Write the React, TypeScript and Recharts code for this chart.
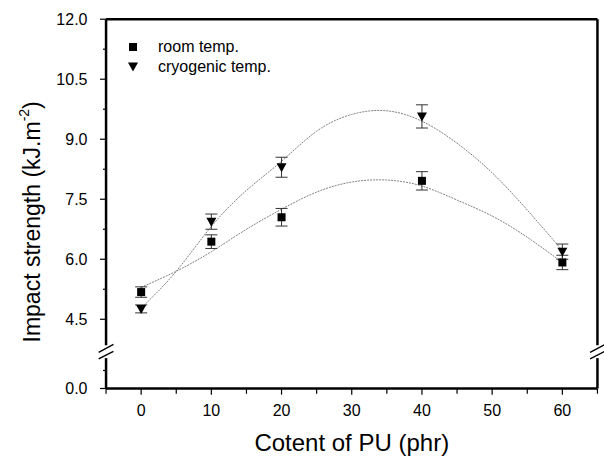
import {
  ComposedChart,
  Line,
  Scatter,
  ErrorBar,
  XAxis,
  YAxis,
  ReferenceLine,
} from "recharts";

const FONT = '"Liberation Sans", Arial, Helvetica, sans-serif';

// measured points
const PU_CONTENT = [0, 10, 20, 40, 60];
const ROOM_TEMP = [5.18, 6.44, 7.05, 7.96, 5.92];
const ROOM_ERR = [0.13, 0.17, 0.22, 0.23, 0.18];
const CRYO_TEMP = [4.76, 6.94, 8.3, 9.57, 6.19];
const CRYO_ERR = [0.1, 0.19, 0.25, 0.29, 0.19];

// fitted curves
const FIT_X = [0, 5, 10, 15, 20, 25, 30, 35, 40, 45, 50, 55, 60];
const ROOM_FIT = [5.3, 5.7, 6.19, 6.75, 7.25, 7.68, 7.93, 7.98, 7.83, 7.48, 7.08, 6.55, 5.92];
const CRYO_FIT = [4.78, 5.7, 6.82, 7.72, 8.45, 9.2, 9.62, 9.71, 9.45, 8.9, 8.16, 7.23, 6.22];

// axes (the y axis is broken: its lowest value stands for 0.0)
const X_FRAME = [-5, 65];
const X_DOMAIN = [-5.15, 65.15];
const X_TICKS = [-5, 0, 5, 10, 15, 20, 25, 30, 35, 40, 45, 50, 55, 60, 65];
const X_LABELED = [0, 10, 20, 30, 40, 50, 60];
const Y_BOTTOM = 2.77;
const Y_FRAME = [Y_BOTTOM, 12];
const Y_DOMAIN = [2.74, 12.03];
const Y_MAJOR = [Y_BOTTOM, 4.5, 6, 7.5, 9, 10.5, 12];
const Y_LABELS = ["0.0", "4.5", "6.0", "7.5", "9.0", "10.5", "12.0"];
const Y_MINOR = [3.22, 5.25, 6.75, 8.25, 9.75, 11.25];
const Y_GAP = [3.53, 3.85];

const SERIES = ["room temp.", "cryogenic temp."];

const roomPts = PU_CONTENT.map((x, i) => ({ x, y: ROOM_TEMP[i], err: ROOM_ERR[i] }));
const cryoPts = PU_CONTENT.map((x, i) => ({ x, y: CRYO_TEMP[i], err: CRYO_ERR[i] }));
const roomFit = FIT_X.map((x, i) => ({ x, y: ROOM_FIT[i] }));
const cryoFit = FIT_X.map((x, i) => ({ x, y: CRYO_FIT[i] }));

function SquareMark(props: any) {
  const { cx, cy } = props;
  if (cx == null || cy == null) return null;
  return <rect x={cx - 4} y={cy - 4} width={8} height={8} fill="#000" />;
}

function TriangleMark(props: any) {
  const { cx, cy } = props;
  if (cx == null || cy == null) return null;
  return <path d={`M${cx - 5},${cy - 4}L${cx + 5},${cy - 4}L${cx},${cy + 5}Z`} fill="#000" />;
}

// x is the plot edge; the drawn frame sits one pixel inside it
function YTick(props: any) {
  const { x, y, payload } = props;
  const i = Y_MAJOR.indexOf(payload.value);
  if (i < 0) return <line x1={x - 2} x2={x + 1} y1={y} y2={y} stroke="#000" strokeWidth={1.2} />;
  return (
    <g>
      <line x1={x - 5} x2={x + 1} y1={y} y2={y} stroke="#000" strokeWidth={1.2} />
      <text x={x - 17.5} y={y} textAnchor="end" dominantBaseline="central" fontSize={16} fontFamily={FONT} fill="#000">
        {Y_LABELS[i]}
      </text>
    </g>
  );
}

function XTick(props: any) {
  const { x, y, payload } = props;
  const labeled = X_LABELED.includes(payload.value);
  return (
    <g>
      <line x1={x} x2={x} y1={y - 1} y2={y + (labeled ? 5 : 4)} stroke="#000" strokeWidth={1.2} />
      {labeled && (
        <text x={x} y={y + 21} textAnchor="middle" dominantBaseline="central" fontSize={16} fontFamily={FONT} fill="#000">
          {payload.value}
        </text>
      )}
    </g>
  );
}

function LegendBox() {
  return (
    <div style={{ position: "absolute", left: 126, top: 37, fontFamily: FONT, fontSize: 16, color: "#000" }}>
      {SERIES.map((name, i) => (
        <div key={name} style={{ display: "flex", alignItems: "center", height: 20, whiteSpace: "nowrap" }}>
          <svg width={14} height={14} style={{ marginRight: 18 }}>
            {i === 0 ? <SquareMark cx={7} cy={7} /> : <TriangleMark cx={7} cy={6.5} />}
          </svg>
          <span>{name}</span>
        </div>
      ))}
    </div>
  );
}

export default function App() {
  const [x0, x1] = X_FRAME;
  const [y0, y1] = Y_FRAME;
  const [g0, g1] = Y_GAP;
  // box around the plot, with the break on both side axes
  const box = [
    [{ x: x0, y: y0 }, { x: x1, y: y0 }],
    [{ x: x0, y: y1 }, { x: x1, y: y1 }],
    [{ x: x0, y: y0 }, { x: x0, y: g0 }],
    [{ x: x0, y: g1 }, { x: x0, y: y1 }],
    [{ x: x1, y: y0 }, { x: x1, y: g0 }],
    [{ x: x1, y: g1 }, { x: x1, y: y1 }],
  ];
  const slashes = [x0, x1].flatMap((ax) => [
    [{ x: ax - 1.05, y: g0 + 0.14 }, { x: ax + 1.05, y: g1 + 0.02 }],
    [{ x: ax - 1.05, y: g0 - 0.02 }, { x: ax + 1.05, y: g0 + 0.17 }],
  ]);
  return (
    <div style={{ position: "absolute", left: 0, top: 0, width: 604, height: 456, background: "#fff" }}>
      <ComposedChart width={604} height={456} margin={{ top: 18, right: 5.5, left: 25, bottom: 16.3 }}>
        <XAxis
          type="number"
          dataKey="x"
          domain={X_DOMAIN}
          ticks={X_TICKS}
          interval={0}
          allowDataOverflow
          axisLine={false}
          tickLine={false}
          tickSize={0}
          tickMargin={0}
          tick={<XTick />}
          height={50}
          label={{
            content: ({ viewBox }: any) => (
              <text
                x={viewBox.x + viewBox.width / 2}
                y={viewBox.y + 53}
                textAnchor="middle"
                dominantBaseline="central"
                fontSize={24}
                fontFamily={FONT}
                fill="#000"
              >
                Cotent of PU (phr)
              </text>
            ),
          }}
        />
        <YAxis
          type="number"
          domain={Y_DOMAIN}
          ticks={[...Y_MAJOR, ...Y_MINOR].sort((a, b) => a - b)}
          interval={0}
          allowDataOverflow
          axisLine={false}
          tickLine={false}
          tickSize={0}
          tickMargin={0}
          tick={<YTick />}
          width={80}
          label={{
            content: ({ viewBox }: any) => {
              const cx = viewBox.x + 7;
              const cy = viewBox.y + viewBox.height / 2 + 18;
              return (
                <text
                  x={cx}
                  y={cy}
                  transform={`rotate(-90 ${cx} ${cy})`}
                  textAnchor="middle"
                  dominantBaseline="central"
                  fontSize={23}
                  fontFamily={FONT}
                  fill="#000"
                >
                  Impact strength (kJ.m
                  <tspan dy={-8} fontSize={14}>-2</tspan>
                  <tspan dy={8}>)</tspan>
                </text>
              );
            },
          }}
        />

        {box.map((seg, i) => (
          <ReferenceLine key={`b${i}`} segment={seg} stroke="#000" strokeWidth={2.5} ifOverflow="visible" />
        ))}
        {slashes.map((seg, i) => (
          <ReferenceLine key={`s${i}`} segment={seg} stroke="#000" strokeWidth={1.4} ifOverflow="visible" />
        ))}

        <Line
          data={roomFit}
          dataKey="y"
          type="natural"
          stroke="#808080"
          strokeWidth={1}
          strokeDasharray="2 1"
          dot={false}
          activeDot={false}
          isAnimationActive={false}
        />
        <Line
          data={cryoFit}
          dataKey="y"
          type="natural"
          stroke="#808080"
          strokeWidth={1}
          strokeDasharray="2 1"
          dot={false}
          activeDot={false}
          isAnimationActive={false}
        />
        <Scatter data={roomPts} dataKey="y" shape={<SquareMark />} isAnimationActive={false}>
          <ErrorBar dataKey="err" direction="y" width={6} stroke="#333" strokeWidth={1} />
        </Scatter>
        <Scatter data={cryoPts} dataKey="y" shape={<TriangleMark />} isAnimationActive={false}>
          <ErrorBar dataKey="err" direction="y" width={6} stroke="#333" strokeWidth={1} />
        </Scatter>
      </ComposedChart>
      <LegendBox />
    </div>
  );
}
